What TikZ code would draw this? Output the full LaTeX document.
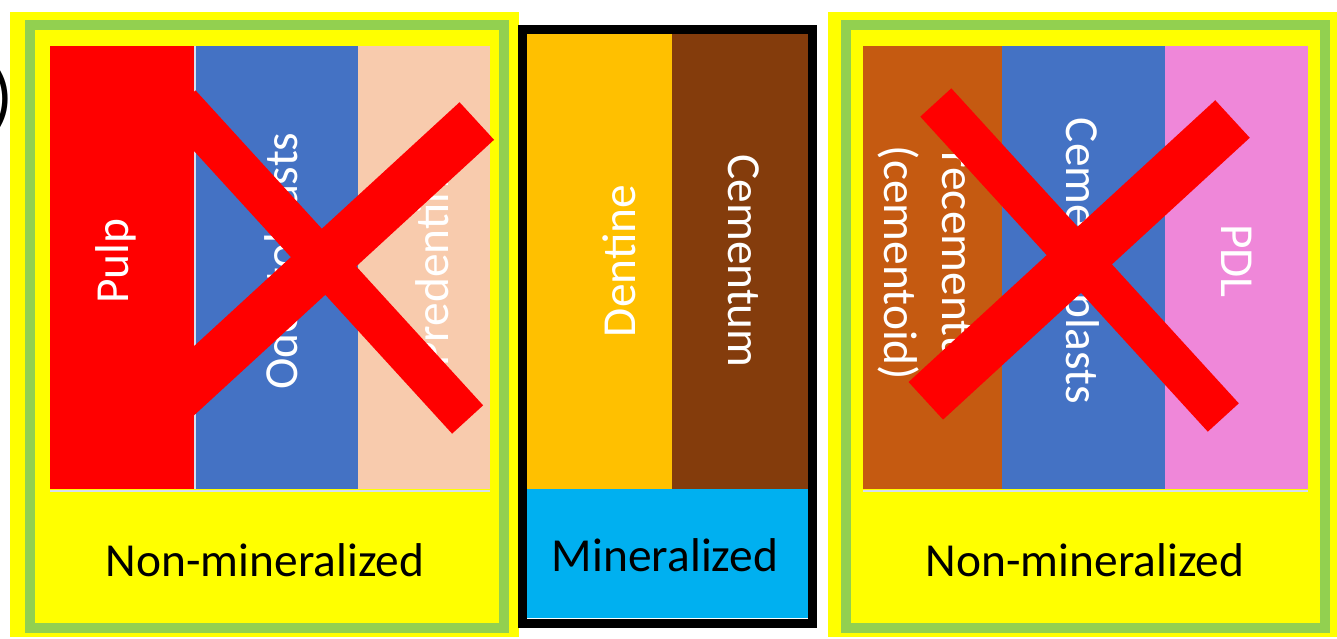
\documentclass[tikz,border=0pt]{standalone}
\usepackage{fontspec}
\setmainfont{Carlito}
\definecolor{lgreen}{HTML}{92D050}
\definecolor{panelyellow}{HTML}{FFFF00}
\definecolor{odblue}{HTML}{4472C4}
\definecolor{peach}{HTML}{F8CBAD}
\definecolor{dentin}{HTML}{FFC000}
\definecolor{cemen}{HTML}{843C0C}
\definecolor{precem}{HTML}{C55A11}
\definecolor{pdlpink}{HTML}{EF87D9}
\definecolor{minblue}{HTML}{00B0F0}
\definecolor{sepline}{HTML}{D6DFF0}
\definecolor{crossred}{HTML}{FF0000}
\begin{document}
\begin{tikzpicture}[x=0.5pt,y=-0.5pt,
  lbl/.style={font=\fontsize{23.7}{29}\selectfont, text=white, inner sep=0pt},
  captext/.style={font=\fontsize{23.7}{29}\selectfont, text=black, inner sep=0pt},
  glow/.style={fill=panelyellow},
  frame/.style={draw=lgreen, line width=5pt},
  sep/.style={draw=sepline, line width=1.4pt},
  crossthin/.style={draw=crossred, line width=21pt},
  crossthick/.style={draw=crossred, line width=25.5pt}]
\useasboundingbox (0,0) rectangle (1337,638);
\clip (0,0) rectangle (1337,638);

% figure label remnant at the far left
\node[font=\fontsize{36}{40}\selectfont, anchor=base west, inner sep=0pt] (paren) at (-9,120) {)};

% ---- left panel: non-mineralized tissues of the pulp side ----
\fill[glow] (10,12) rectangle (519,637);
\draw[frame] (30,25) rectangle (504,628);
\fill[crossred] (50,46) rectangle (194,489);
\fill[odblue] (196,46) rectangle (358,489);
\fill[peach] (358,46) rectangle (490,489);
\draw[sep] (195,46) -- (195,489);
\draw[sep] (50,491) -- (490,491);

% ---- middle panel: mineralized tissues ----
\fill[dentin] (526,33) rectangle (672,489);
\fill[cemen] (672,33) rectangle (810,489);
\fill[minblue] (526,489) rectangle (808,618);
\draw[black, line width=4.5pt] (522,29) rectangle (812,623);

% ---- right panel: non-mineralized tissues of the root surface ----
\fill[glow] (828,12) rectangle (1337,637);
\draw[frame] (846,25) rectangle (1325,628);
\fill[precem] (863,46) rectangle (1002,489);
\fill[odblue] (1002,46) rectangle (1165,489);
\fill[pdlpink] (1165,46) rectangle (1308,489);
\draw[sep] (863,491) -- (1308,491);

% column labels
\node[lbl, rotate=90] (pulp) at (116,261) {Pulp};
\node[lbl, rotate=90] (odonto) at (281,261) {Odontoblasts};
\node[lbl, rotate=90] (predent) at (432,261) {Predentine};
\node[lbl, rotate=90] (dent) at (619,261) {Dentine};
\node[lbl, rotate=-90] (cem) at (744,261) {Cementum};
\node[lbl, rotate=-90, align=center] (precemlbl) at (925,263) {Precementum\\(cementoid)};
\node[lbl, rotate=-90] (cblast) at (1083,261) {Cementoblasts};
\node[lbl, rotate=-90] (pdl) at (1237,261) {PDL};

% crosses over the non-mineralized layers
\draw[crossthin] (180,104.5) -- (467.6,419.5);
\draw[crossthick] (170,402.8) -- (476.8,121);
\draw[crossthin] (935.8,102.5) -- (1223.3,417.5);
\draw[crossthick] (925.8,400.8) -- (1232.5,119);

% panel captions
\node[captext] (nm1) at (265,560) {Non-mineralized};
\node[captext] (min) at (665,555) {Mineralized};
\node[captext] (nm2) at (1085,560) {Non-mineralized};
\end{tikzpicture}
\end{document}
